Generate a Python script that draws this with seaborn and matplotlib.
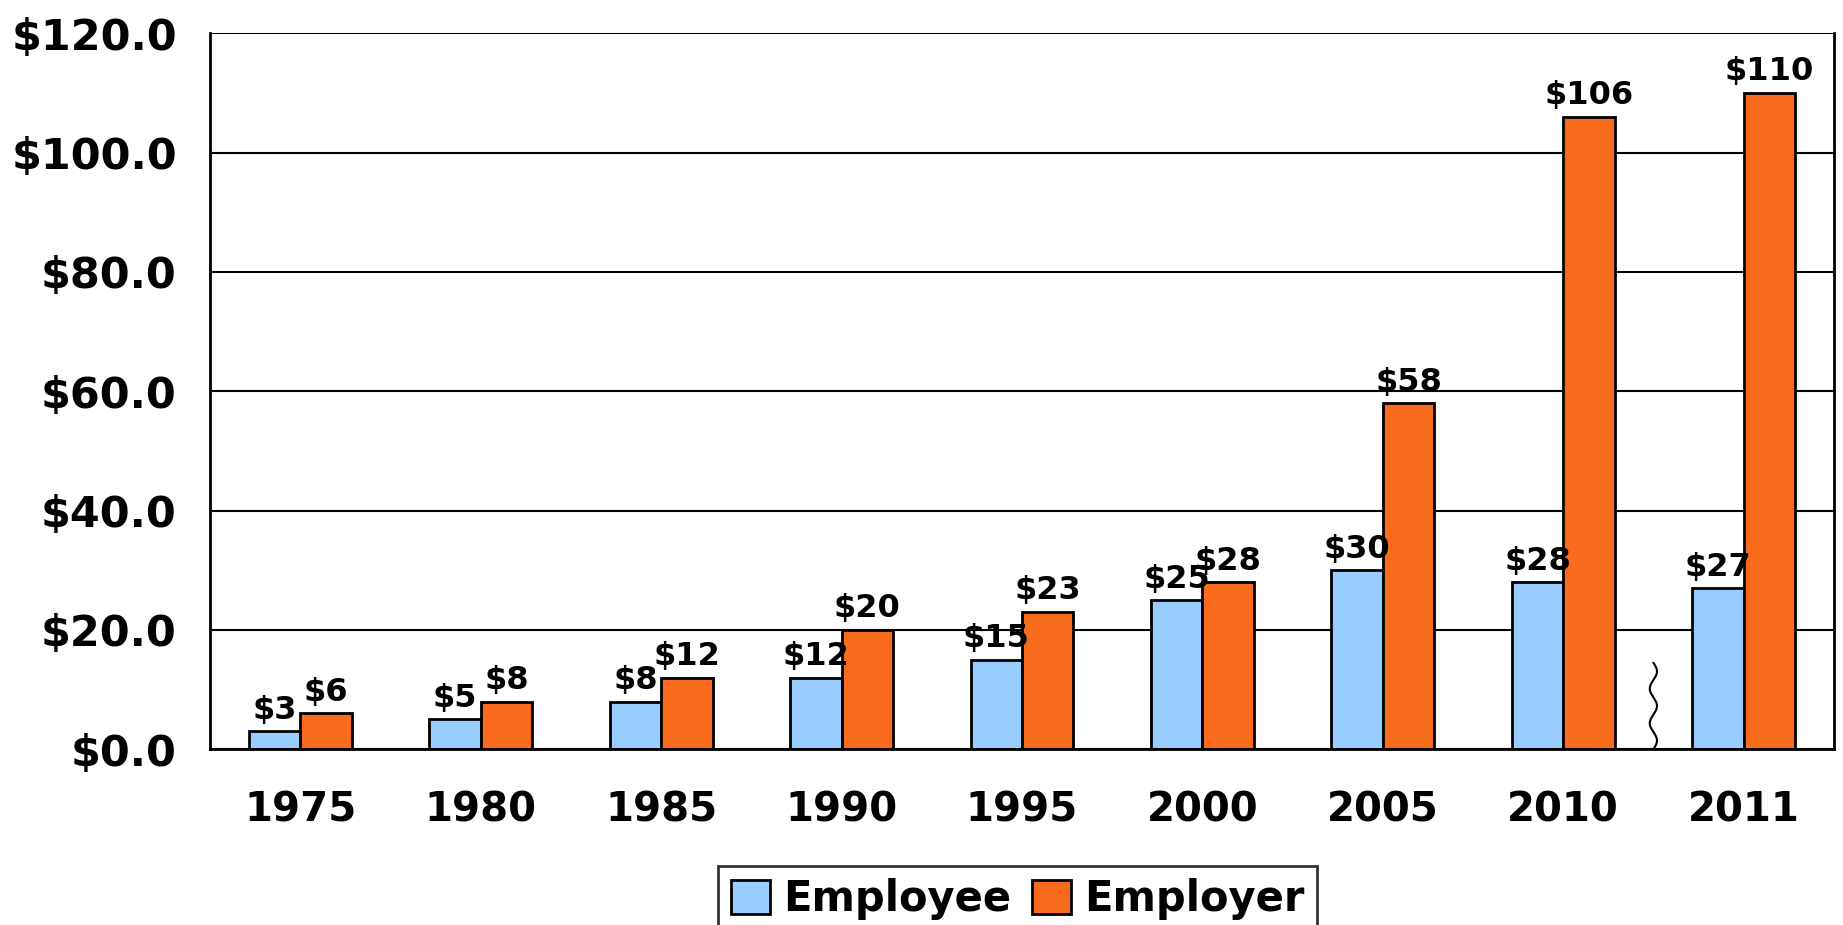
import matplotlib
matplotlib.use("Agg")
import matplotlib.pyplot as plt
import numpy as np
import pandas as pd
import seaborn as sns

# values ($)
years = ["1975", "1980", "1985", "1990", "1995", "2000", "2005", "2010", "2011"]
employee = [3, 5, 8, 12, 15, 25, 30, 28, 27]
employer = [6, 8, 12, 20, 23, 28, 58, 106, 110]
series = ["Employee", "Employer"]
y_ticks = [0, 20, 40, 60, 80, 100, 120]

df = pd.DataFrame({
    "year": years * 2,
    "value": employee + employer,
    "who": [series[0]] * len(years) + [series[1]] * len(years),
})

sns.set_style("white")
plt.rcParams["font.family"] = ["DejaVu Sans"]
plt.rcParams["font.weight"] = "bold"
plt.rcParams["text.color"] = "black"
plt.rcParams["xtick.color"] = "black"
plt.rcParams["ytick.color"] = "black"
plt.rcParams["axes.labelcolor"] = "black"

fig = plt.figure(figsize=(18.43, 9.25), dpi=100)
ax = fig.add_axes([0.114, 0.19, 0.881, 0.774])

palette = {"Employee": "#99CCFF", "Employer": "#F96C1E"}
sns.barplot(data=df, x="year", y="value", hue="who", order=years,
            hue_order=series, palette=palette, width=0.57, saturation=1,
            edgecolor="black", linewidth=2, ax=ax, legend=True)

for c in ax.containers:
    ax.bar_label(c, labels=[f"${v:.0f}" for v in c.datavalues],
                 fontsize=23, fontweight="bold", padding=4)

# axes styling
ax.set_ylim(0, 120)
ax.set_xlim(-0.5, len(years) - 0.5)
ax.set_yticks(y_ticks)
ax.set_yticklabels([f"${v:.1f}" for v in y_ticks], fontsize=31, fontweight="bold")
ax.yaxis.grid(True, color="black", linewidth=1.5)
ax.set_axisbelow(True)
ax.set_xlabel("")
ax.set_ylabel("")
ax.tick_params(axis="x", which="major", length=0, pad=30, labelsize=29)
ax.set_xticks(np.arange(len(years) + 1) - 0.5, minor=True)
ax.tick_params(axis="x", which="minor", length=14, width=2, color="black", direction="out")
ax.tick_params(axis="y", length=15, width=2, color="black", direction="out", pad=9)
for lbl in ax.get_xticklabels():
    lbl.set_fontweight("bold")
for s in ["left", "right", "bottom"]:
    ax.spines[s].set_color("black")
    ax.spines[s].set_linewidth(2)
ax.spines["top"].set_visible(False)

# axis-break squiggle between 2010 and 2011
bx = len(years) - 1.5
yy = np.linspace(0, 14.5, 200)
ax.plot(bx + 0.02 * np.sin(yy / 14.5 * 5 * np.pi), yy, color="black", linewidth=1.5,
        clip_on=False)

handles, labels = ax.get_legend_handles_labels()
ax.get_legend().remove()
leg = fig.legend(handles, labels, loc="upper center", bbox_to_anchor=(0.552, 0.064),
                 ncol=2, frameon=True, fancybox=False, borderpad=0.3, borderaxespad=0,
                 handlelength=0.95, handleheight=0.9, handletextpad=0.3, columnspacing=0.5,
                 prop={"weight": "bold", "size": 30})
leg.get_frame().set_edgecolor("black")
leg.get_frame().set_linewidth(2)

fig.savefig("out.png", dpi=100)
